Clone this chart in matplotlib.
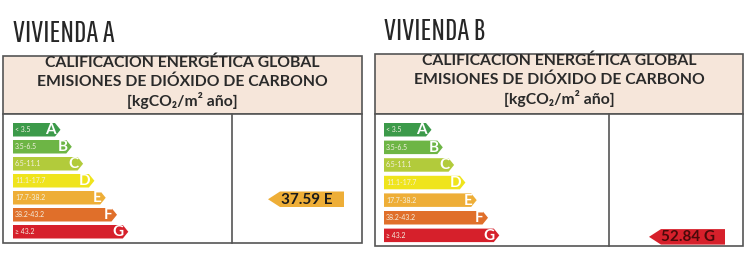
import matplotlib
matplotlib.use("Agg")
import matplotlib.pyplot as plt
from matplotlib.patches import Polygon, Rectangle

plt.rcParams['font.family'] = ['Lato', 'DejaVu Sans']

# data
titles = ['VIVIENDA A', 'VIVIENDA B']
grades = ['A', 'B', 'C', 'D', 'E', 'F', 'G']
ranges = ['< 3.5', '3.5-6.5', '6.5-11.1', '11.1-17.7', '17.7-38.2', '38.2-43.2', '\u2265 43.2']
grade_colors = ['#3c9a4a', '#6db545', '#b2cb3b', '#efe41c', '#eeae37', '#e06f2a', '#d6202b']
values = [37.59, 52.84]
value_grades = ['E', 'G']
header_lines = ['CALIFICACION ENERGÉTICA GLOBAL',
                'EMISIONES DE DIÓXIDO DE CARBONO',
                '[kgCO\u2082/m\u00b2 año]']

# layout in pixels
panels = [
    dict(l=3, r=362, ht=56, hb=114, b=243, d=232, bx=13, ry=123, rp=17.0, tx=13, ty=33),
    dict(l=375, r=743, ht=54, hb=114, b=246, d=609, bx=384, ry=123, rp=17.6, tx=384, ty=31),
]

fig = plt.figure(figsize=(7.5, 2.58), dpi=100)
ax = fig.add_axes([0, 0, 1, 1])
ax.set_xlim(0, 750)
ax.set_ylim(258, 0)
ax.axis('off')

for k, p in enumerate(panels):
    ax.text(p['tx'], p['ty'], titles[k], fontsize=22, va='center', ha='left',
            family=['Pathway Gothic One', 'Oswald', 'DejaVu Sans'],
            color='#262626')
    # header and body boxes
    ax.add_patch(Rectangle((p['l'], p['ht']), p['r'] - p['l'], p['hb'] - p['ht'],
                           facecolor='#f6e6da', edgecolor='#555555', lw=1.2))
    ax.add_patch(Rectangle((p['l'], p['hb']), p['r'] - p['l'], p['b'] - p['hb'],
                           facecolor='white', edgecolor='#555555', lw=1.2))
    ax.plot([p['d'], p['d']], [p['hb'], p['b']], color='#555555', lw=1.2)
    cx = (p['l'] + p['r']) / 2
    for j, line in enumerate(header_lines):
        ax.text(cx, p['ht'] + 6.5 + j * 19, line, fontsize=11.3, fontweight='bold',
                ha='center', va='center', color='#2a2a2a',
                family=['Lato', 'DejaVu Sans'])
    # grade arrows
    h = 13.5
    for i, g in enumerate(grades):
        y0 = p['ry'] + i * p['rp']
        xe = p['bx'] + 42 + i * 11.3
        tip = 5.5
        ax.add_patch(Polygon([(p['bx'], y0), (xe, y0), (xe + tip, y0 + h / 2),
                              (xe, y0 + h), (p['bx'], y0 + h)],
                             closed=True, facecolor=grade_colors[i], edgecolor='none'))
        ax.text(p['bx'] + 2, y0 + h / 2, ranges[i], fontsize=5, color='#f4f0e0',
                ha='left', va='center')
        ax.text(xe + 1, y0 + h / 2 + 0.5, g, fontsize=11, fontweight='bold', color='white',
                ha='right', va='center')
    # indicator
    gi = grades.index(value_grades[k])
    y0 = p['ry'] + gi * p['rp'] + 0.5
    xr = p['d'] + 112 if k == 0 else p['d'] + 116
    xl = xr - 64
    tip = 12
    ax.add_patch(Polygon([(xl, y0), (xr, y0), (xr, y0 + h + 2), (xl, y0 + h + 2),
                          (xl - tip, y0 + (h + 2) / 2)],
                         closed=True, facecolor=grade_colors[gi], edgecolor='none'))
    ax.text((xl + xr) / 2 - 5, y0 + (h + 2) / 2 + 0.5, f'{values[k]:.2f} {value_grades[k]}',
            fontsize=11, fontweight='bold', color='#1a1a1a' if k == 0 else '#4a0a0a',
            ha='center', va='center')

fig.savefig('out.png', dpi=100)
